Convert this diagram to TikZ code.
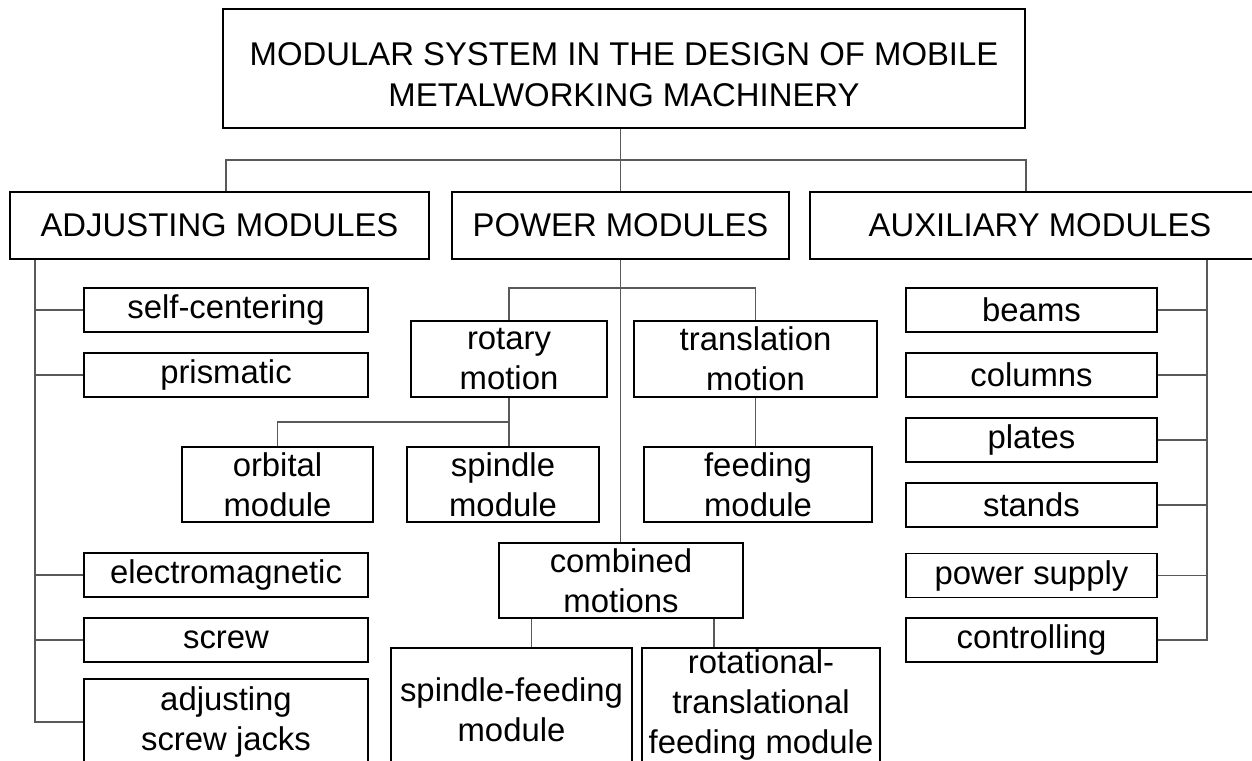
\documentclass[tikz,border=0pt]{standalone}
\usepackage{fontspec}
\setmainfont{Liberation Sans}
\usepackage{tikz}

\begin{document}
\begin{tikzpicture}[
    box/.style={rectangle, draw=black, line width=0.9pt, inner sep=0pt, align=center, minimum height=0.88cm, font=\fontsize{18.7}{22.7}\selectfont},
    head/.style={box, minimum height=1.34cm},
    leaf/.style={box, minimum width=5.68cm},
    auxleaf/.style={box, minimum width=5.02cm},
    link/.style={draw=black!65, line width=0.8pt}
]
    \clip (0,0) rectangle (25.04,-15.2);

    % Title
    \node[box, minimum width=16.04cm, minimum height=2.38cm, font=\fontsize{18.7}{23.5}\selectfont] (title) at (12.48,-1.37) {\rule{0pt}{20pt}MODULAR SYSTEM IN THE DESIGN OF MOBILE\\METALWORKING MACHINERY};

    % Module groups
    \node[head, minimum width=8.38cm] (adj) at (4.39,-4.51) {ADJUSTING MODULES};
    \node[head, minimum width=6.74cm] (power) at (12.41,-4.51) {POWER MODULES};
    \node[head, minimum width=9.2cm] (aux) at (20.8,-4.51) {AUXILIARY MODULES};

    % Adjusting modules
    \node[leaf] (selfc) at (4.52,-6.2) {self-centering};
    \node[leaf] (prism) at (4.52,-7.5) {prismatic};
    \node[leaf] (electro) at (4.52,-11.5) {electromagnetic};
    \node[leaf] (screw) at (4.52,-12.8) {screw};
    \node[leaf, minimum height=1.72cm] (jacks) at (4.52,-14.44) {adjusting\\screw jacks};

    % Power modules
    \node[box, minimum width=3.92cm, minimum height=1.52cm] (rotary) at (10.18,-7.18) {rotary\\motion};
    \node[box, minimum width=4.86cm, minimum height=1.52cm] (transl) at (15.11,-7.18) {translation\\motion};
    \node[box, minimum width=3.82cm, minimum height=1.5cm] (orbital) at (5.55,-9.69) {orbital\\module};
    \node[box, minimum width=3.84cm, minimum height=1.5cm] (spindle) at (10.06,-9.69) {spindle\\module};
    \node[box, minimum width=4.56cm, minimum height=1.5cm] (feeding) at (15.16,-9.69) {feeding\\module};
    \node[box, minimum width=4.88cm, minimum height=1.5cm] (combined) at (12.42,-11.61) {combined\\motions};
    \node[box, minimum width=4.82cm, minimum height=2.48cm] (sfeed) at (10.23,-14.2) {spindle-feeding\\module};
    \node[box, minimum width=4.76cm, minimum height=2.48cm] (rottr) at (15.22,-14.2) {rotational-\\translational\\feeding module\rule[-10pt]{0pt}{10pt}};

    % Auxiliary modules
    \node[auxleaf] (beams) at (20.63,-6.2) {beams};
    \node[auxleaf] (columns) at (20.63,-7.5) {columns};
    \node[auxleaf] (plates) at (20.63,-8.8) {plates};
    \node[auxleaf] (stands) at (20.63,-10.1) {stands};
    \node[auxleaf] (supply) at (20.63,-11.51) {power supply};
    \node[auxleaf] (ctrl) at (20.63,-12.8) {controlling};

    % Connectors
    \coordinate (busL) at (4.52,-3.2);
    \coordinate (busR) at (20.52,-3.2);
    \coordinate (adjtrunk) at (0.7,0);
    \coordinate (auxtrunk) at (24.14,0);

    \draw[link] (power.north |- title.south) -- (power.north);
    \draw[link] (busL |- adj.north) -- (busL) -- (busR) -- (busR |- aux.north);

    \draw[link] (adjtrunk |- adj.south) -- (adjtrunk |- jacks.west) -- (jacks.west);
    \foreach \n in {selfc, prism, electro, screw}
        \draw[link] (adjtrunk |- \n.west) -- (\n.west);

    \draw[link] (power.south) -- (power.south |- combined.north);
    \draw[link] (rotary.north) -- (rotary.north |- 0,-5.76) -| (transl.north);
    \draw[link] (rotary.south) -- (rotary.south |- spindle.north);
    \draw[link] (rotary.south |- 0,-8.44) -| (orbital.north);
    \draw[link] (transl.south) -- (transl.south |- feeding.north);
    \draw[link] ([xshift=0.66cm]combined.south west) -- ([xshift=0.66cm]combined.south west |- sfeed.north);
    \draw[link] ([xshift=-0.6cm]combined.south east) -- ([xshift=-0.6cm]combined.south east |- rottr.north);

    \draw[link] (auxtrunk |- aux.south) -- (auxtrunk |- ctrl.east) -- (ctrl.east);
    \foreach \n in {beams, columns, plates, stands, supply}
        \draw[link] (\n.east) -- (auxtrunk |- \n.east);

\end{tikzpicture}
\end{document}
